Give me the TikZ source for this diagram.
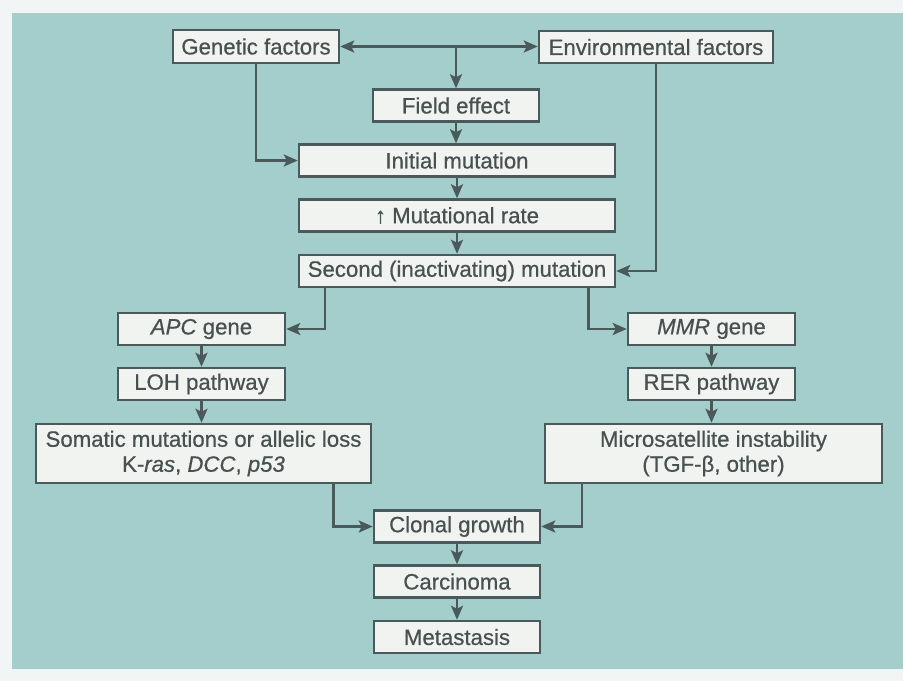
\documentclass[tikz,border=0pt]{standalone}
\usepackage{fontspec}
\setmainfont{Liberation Sans}[FakeBold=0.6]
\usetikzlibrary{arrows.meta}
\definecolor{paper}{RGB}{242,245,245}
\definecolor{bgteal}{RGB}{163,206,203}
\definecolor{boxfill}{RGB}{241,243,241}
\definecolor{boxline}{RGB}{74,90,90}
\definecolor{txt}{RGB}{72,80,80}
\begin{document}
\begin{tikzpicture}[x=0.5pt,y=-0.5pt,
  box/.style={draw=boxline, line width=1.25pt, fill=boxfill, text=txt, inner sep=0pt,
    minimum height=16pt, align=center, font=\fontsize{11.1}{12.5}\selectfont},
  tip/.tip={Stealth[length=7pt,width=6pt,inset=1.5pt]},
  conn/.style={draw=boxline, line width=1.25pt, -tip},
  dconn/.style={draw=boxline, line width=1.25pt, tip-tip}]
\fill[paper] (0,0) rectangle (903,681);
\fill[bgteal] (12,13) rectangle (903,669);
\useasboundingbox (0,0) rectangle (903,681);

\node[box, minimum width=83pt, minimum height=16.5pt] (gen) at (256,46.5) {Genetic factors};
\node[box, minimum width=117pt] (env) at (656,47) {Environmental factors};
\node[box, minimum width=83pt] (fld) at (456,105.5) {Field effect};
\node[box, minimum width=158pt] (ini) at (457,160.5) {Initial mutation};
\node[box, minimum width=158pt] (mut) at (457,215.5) {↑ Mutational rate};
\node[box, minimum width=158pt] (sec) at (457,271) {Second (inactivating) mutation};
\node[box, minimum width=83.5pt] (apc) at (201.5,329) {\textit{APC} gene};
\node[box, minimum width=83.5pt] (loh) at (201.5,384) {LOH pathway};
\node[box, minimum width=167.5pt, minimum height=29.5pt] (som) at (203.5,453.5)
  {Somatic mutations or allelic loss\\K-\textit{ras}, \textit{DCC}, \textit{p53}};
\node[box, minimum width=83.5pt] (mmr) at (711.5,329) {\textit{MMR} gene};
\node[box, minimum width=83.5pt] (rer) at (711.5,384) {RER pathway};
\node[box, minimum width=168.5pt, minimum height=29.5pt] (mic) at (713.5,453.5)
  {Microsatellite instability\\(TGF-β, other)};
\node[box, minimum width=83pt] (cln) at (457,526.5) {Clonal growth};
\node[box, minimum width=83pt] (car) at (457,581.5) {Carcinoma};
\node[box, minimum width=83pt] (met) at (457,637) {Metastasis};

\draw[dconn] (gen.east) -- (gen.east -| env.west);
\draw[conn] (gen.east -| fld.north) -- (fld.north);
\draw[conn] (gen.south) |- (ini.west);
\draw[conn] (env.south) |- (sec.east);
\draw[conn] (fld.south) -- (fld.south |- ini.north);
\draw[conn] (ini) -- (mut);
\draw[conn] (mut) -- (sec);
\draw[conn] ([xshift=13.5pt]sec.south west) |- (apc.east);
\draw[conn] ([xshift=-14pt]sec.south east) |- (mmr.west);
\draw[conn] (apc) -- (loh);
\draw[conn] (loh.south) -- (loh.south |- som.north);
\draw[conn] (mmr) -- (rer);
\draw[conn] (rer.south) -- (rer.south |- mic.north);
\draw[conn] ([xshift=-19.5pt]som.south east) |- (cln.west);
\draw[conn] ([xshift=19pt]mic.south west) |- (cln.east);
\draw[conn] (cln) -- (car);
\draw[conn] (car) -- (met);
\end{tikzpicture}
\end{document}
